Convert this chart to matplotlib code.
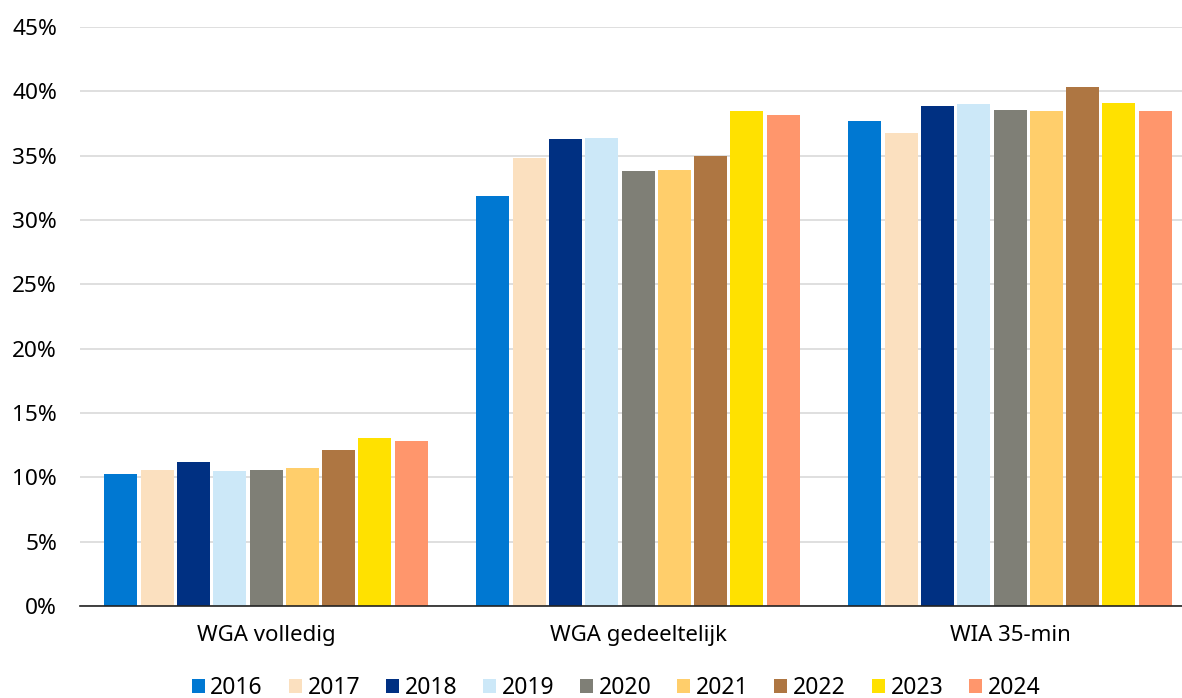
import matplotlib
matplotlib.use("Agg")
import matplotlib.pyplot as plt
import numpy as np

categories = ["WGA volledig", "WGA gedeeltelijk", "WIA 35-min"]
years = ["2016", "2017", "2018", "2019", "2020", "2021", "2022", "2023", "2024"]
values = {
    "2016": [10.25, 31.85, 37.7],
    "2017": [10.6, 34.8, 36.75],
    "2018": [11.2, 36.3, 38.85],
    "2019": [10.5, 36.35, 39.05],
    "2020": [10.6, 33.8, 38.55],
    "2021": [10.75, 33.85, 38.5],
    "2022": [12.1, 34.95, 40.35],
    "2023": [13.05, 38.45, 39.1],
    "2024": [12.8, 38.15, 38.45],
}
colors = ["#0078D2", "#FBE0BF", "#003082", "#CCE8F8", "#7F7F76",
          "#FFCE6B", "#AE7642", "#FFE100", "#FF966C"]

plt.rcParams["font.family"] = ["Noto Sans", "DejaVu Sans"]

W, H = 1182, 698
fig = plt.figure(figsize=(W / 100, H / 100), dpi=100)
ax = fig.add_axes([80 / W, (H - 606) / H, (W - 80) / W, (606 - 27) / H])

pitch = 372.0
pitch_bar = 36.3 / pitch
bar_w = 33.0 / pitch
x = np.arange(len(categories))
n = len(years)
for i, (yr, c) in enumerate(zip(years, colors)):
    offs = (i - (n - 1) / 2) * pitch_bar
    ax.bar(x + offs, values[yr], width=bar_w, color=c, label=yr,
           edgecolor="none", zorder=3)

ax.set_ylim(0, 45)
right = -0.5 + (W - 80) / pitch
ax.set_xlim(-0.5, right)
ax.set_yticks(np.arange(0, 46, 5))
ax.set_yticklabels([f"{v}%" for v in range(0, 46, 5)])
ax.set_xticks(x)
ax.set_xticklabels(categories)
ax.tick_params(axis="y", length=0, pad=16.5, labelsize=16.3, labelcolor="#000000")
ax.tick_params(axis="x", length=0, pad=13.5, labelsize=16, labelcolor="#000000")
ax.grid(axis="y", color="#D9D9D9", linewidth=1.2, zorder=0)
for s in ["left", "right", "top"]:
    ax.spines[s].set_visible(False)
ax.spines["bottom"].set_color("#222222")
ax.spines["bottom"].set_linewidth(1.2)
ax.spines["bottom"].set_zorder(4)

leg = fig.legend(loc="center", bbox_to_anchor=(616 / W, (H - 688) / H), ncol=9,
                 frameon=False, fontsize=16.5, handlelength=0.57, handleheight=0.57,
                 handletextpad=0.25, columnspacing=1.12, borderaxespad=0,
                 borderpad=0)

fig.savefig("out.png", dpi=100)
